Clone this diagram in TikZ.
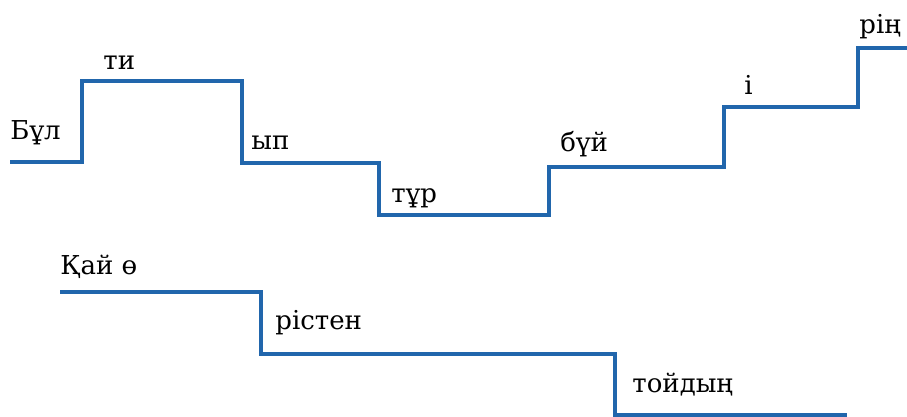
\documentclass[tikz,border=0pt]{standalone}
\usepackage{fontspec}
\setmainfont{DejaVu Serif}
\definecolor{stairblue}{RGB}{33,102,172}
\tikzset{
  stair/.style={draw=stairblue, line width=2.4pt},
  word/.style={anchor=base west, inner sep=0pt, text=black,
    font=\fontsize{13}{15}\selectfont}
}
\begin{document}
\begin{tikzpicture}[x=0.5pt,y=-0.5pt]

      \useasboundingbox (0,0) rectangle (907,417);

      % Upper stair corners
      \coordinate (A1) at (10,162);
      \coordinate (A2) at (82,162);
      \coordinate (A3) at (82,81);
      \coordinate (A4) at (242,81);
      \coordinate (A5) at (242,163);
      \coordinate (A6) at (379,163);
      \coordinate (A7) at (379,215);
      \coordinate (A8) at (549,215);
      \coordinate (A9) at (549,167);
      \coordinate (A10) at (724,167);
      \coordinate (A11) at (724,107);
      \coordinate (A12) at (858,107);
      \coordinate (A13) at (858,48);
      \coordinate (A14) at (910,48);

      % Lower stair corners
      \coordinate (B1) at (60,292);
      \coordinate (B2) at (261,292);
      \coordinate (B3) at (261,354);
      \coordinate (B4) at (615,354);
      \coordinate (B5) at (615,415);
      \coordinate (B6) at (847,415);

      % Stairs
      \draw[stair] (A1)--(A2)--(A3)--(A4)--(A5)--(A6)--(A7)--(A8)--(A9)
        --(A10)--(A11)--(A12)--(A13)--(A14);
      \draw[stair] (B1)--(B2)--(B3)--(B4)--(B5)--(B6);

      % Syllables, upper row
      \node[word] (bul) at (10,140) {Бұл};
      \node[word] (ti) at (103,70) {ти};
      \node[word] (yp) at (251,150) {ып};
      \node[word] (tur) at (391,203) {тұр};
      \node[word] (buy) at (560,152) {бүй};
      \node[word] (i) at (744,95) {і};
      \node[word] (rin) at (859,34) {рің};

      % Syllables, lower row
      \node[word] (qay) at (60,275) {Қай ө};
      \node[word] (risten) at (275,330) {рістен};
      \node[word] (toydyn) at (632,393) {тойдың};

    \end{tikzpicture}
\end{document}
